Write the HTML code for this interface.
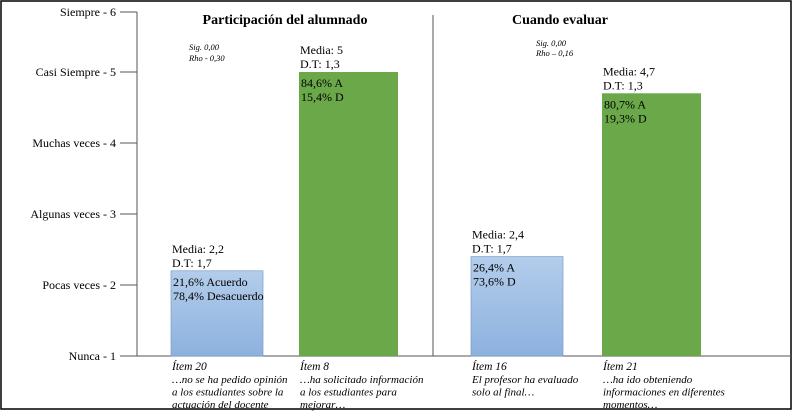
<!DOCTYPE html>
<html><head><meta charset="utf-8"><style>
body{margin:0;background:#fff}
svg{display:block;font-family:"Liberation Serif",serif}
</style></head><body>
<svg id="c" width="795" height="413" viewBox="0 0 795 413">
<rect x="1" y="1" width="790" height="408" fill="#fff" stroke="#000" stroke-width="1.5"/>
<defs><linearGradient id="bl" x1="0" y1="0" x2="0" y2="1"><stop offset="0" stop-color="#b3cdeb"/><stop offset="1" stop-color="#8db1de"/></linearGradient></defs>
<line x1="137" y1="12" x2="137" y2="356" stroke="#555"/>
<line x1="137" y1="356" x2="791" y2="356" stroke="#555"/>
<line x1="433" y1="15" x2="433" y2="356" stroke="#555"/>
<text x="285" y="24" font-size="14" font-weight="bold" text-anchor="middle">Participación del alumnado</text>
<text x="560" y="24" font-size="14" font-weight="bold" text-anchor="middle">Cuando evaluar</text>
<text font-size="8.5" font-style="italic"><tspan x="189" y="50">Sig. 0,00</tspan><tspan x="189" y="61">Rho - 0,30</tspan></text>
<text font-size="8.5" font-style="italic"><tspan x="536" y="46">Sig. 0,00</tspan><tspan x="536" y="56">Rho – 0,16</tspan></text>
<g id="g"></g>
</svg>
<script>
const tickLabels=["Nunca - 1","Pocas veces - 2","Algunas veces - 3","Muchas veces -  4","Casi Siempre - 5","Siempre - 6"];
const tickValues=[1,2,3,4,5,6];
const items=["Ítem 20","Ítem 8","Ítem 16","Ítem 21"];
const means=[2.2,5,2.4,4.7];
const sds=["1,7","1,3","1,7","1,3"];
const meanLabels=["Media:  2,2","Media: 5","Media: 2,4","Media: 4,7"];
const pctA=["21,6% Acuerdo","84,6% A","26,4% A","80,7% A"];
const pctD=["78,4% Desacuerdo","15,4% D","73,6% D","19,3% D"];
const desc=[["…no se ha pedido opinión","a los estudiantes sobre la","actuación del docente"],["…ha solicitado información"," a los estudiantes para","mejorar…"],["El profesor ha evaluado"," solo al final…"],["…ha ido obteniendo","informaciones en diferentes","momentos…"]];
const barX=[171,299,471,602], barW=[92,99,92,99];
const y=v=>v>=5?72-(v-5)*60:356-(v-1)*71;
const NS="http://www.w3.org/2000/svg",g=document.getElementById('g');
function mk(t,a,txt){const e=document.createElementNS(NS,t);for(const k in a)e.setAttribute(k,a[k]);if(txt!=null)e.textContent=txt;g.appendChild(e);return e;}
tickValues.forEach((v,i)=>{
 const l=mk('line',{x1:120,x2:137,y1:y(v),y2:y(v),stroke:'#555'});
 
 
 const t=mk('text',{x:116,y:y(v)+4,'font-size':12,'text-anchor':'end'},tickLabels[i]);
 
 
});
means.forEach((m,i)=>{
 const top=y(m),x=barX[i],green=i%2==1;
 const r=mk('rect',{x:x,y:top,width:barW[i],height:356-top,fill:green?'#6aa84a':'url(#bl)',stroke:green?'none':'#7a9cc8','stroke-width':0.7});
 
 
 const t1=mk('text',{x:x+1,y:top-18,'font-size':12},meanLabels[i]);
 
 
 const t2=mk('text',{x:x+1,y:top-4,'font-size':12},'D.T: '+sds[i]);
 
 
 const t3=mk('text',{x:x+2,y:top+15,'font-size':12},pctA[i]);
 
 
 const t4=mk('text',{x:x+2,y:top+29,'font-size':12},pctD[i]);
 
 
 const it=mk('text',{x:x+1,y:370,'font-size':11.5,'font-style':'italic'},items[i]);
 
 
 desc[i].forEach((d,j)=>{
  const dt=mk('text',{x:x+1,y:383+j*12.5,'font-size':11,'font-style':'italic'},d);
  
  
 });
});
</script>
</body></html>
